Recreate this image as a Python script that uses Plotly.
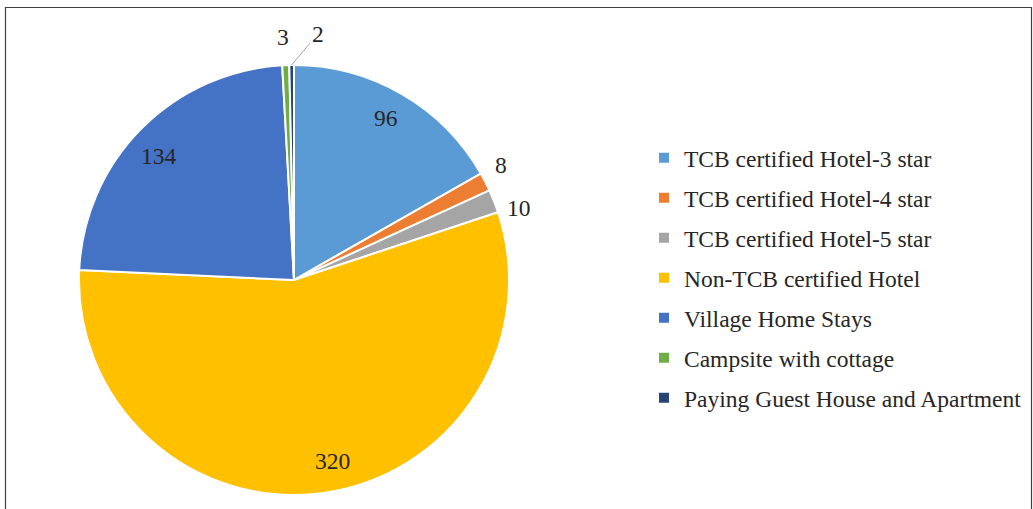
import math
import plotly.graph_objects as go

categories = [
    "TCB certified Hotel-3 star",
    "TCB certified Hotel-4 star",
    "TCB certified Hotel-5 star",
    "Non-TCB certified Hotel",
    "Village Home Stays",
    "Campsite with cottage",
    "Paying Guest House and Apartment",
]
values = [96, 8, 10, 320, 134, 3, 2]
colors = ["#5B9BD5", "#ED7D31", "#A5A5A5", "#FFC000", "#4472C4", "#70AD47", "#264478"]

# label placement style (radius factor of pie radius, pixel nudges, leader line)
label_radius = [0.85, 1.12, 1.14, 0.85, 0.85, 1.125, 1.0]
label_xshift = [0, -7, -3, 14, -5, -2, 0]
label_yshift = [4, 5, -18, 0, -5, 1, 0]
label_leader = [False, False, False, False, False, False, True]

W, H = 1033, 509
T, B = 65, 14
PH = H - T - B
DX0, DX1 = 79, 509
R = (DX1 - DX0) / 2
CX = (DX0 + DX1) / 2 / W
CY = 0.5
FONT = "Liberation Serif"
TXT = "#262626"
FS = 23.5

fig = go.Figure()
fig.add_trace(go.Pie(
    labels=categories,
    values=values,
    sort=False,
    direction="clockwise",
    rotation=0,
    marker=dict(colors=colors, line=dict(color="white", width=2)),
    textinfo="none",
    hoverinfo="label+value",
    domain=dict(x=[DX0 / W, DX1 / W], y=[0, 1]),
    showlegend=True,
    legendgroup="",
))
# invisible helper so that each legend slice gets its own group (gap between items)
fig.add_trace(go.Scatter(
    x=[None], y=[None], mode="markers", name=" ", legendgroup="helper",
    marker=dict(color="rgba(0,0,0,0)"), hoverinfo="skip", showlegend=True,
))

total = sum(values)
annotations = []
cum = 0
for v, f, xs, ys, lead in zip(values, label_radius, label_xshift, label_yshift, label_leader):
    mid = (cum + v / 2) / total * 2 * math.pi
    cum += v
    x = CX + f * R * math.sin(mid) / W
    y = CY + f * R * math.cos(mid) / PH
    if lead:
        annotations.append(dict(
            x=x, y=y, xref="paper", yref="paper", text=str(v),
            showarrow=True, arrowhead=0, arrowwidth=1, arrowcolor="#A6A6A6",
            ax=26, ay=-31, standoff=0,
            font=dict(family=FONT, size=FS, color=TXT),
        ))
    else:
        annotations.append(dict(
            x=x, y=y, xref="paper", yref="paper", text=str(v),
            showarrow=False, xanchor="center", yanchor="middle",
            xshift=xs, yshift=ys,
            font=dict(family=FONT, size=FS, color=TXT),
        ))

fig.update_layout(
    width=W, height=H,
    margin=dict(l=0, r=0, t=T, b=B, autoexpand=False),
    paper_bgcolor="white",
    plot_bgcolor="white",
    font=dict(family=FONT, size=FS, color=TXT),
    xaxis=dict(visible=False),
    yaxis=dict(visible=False),
    legend=dict(
        x=644 / W, y=(H - B - 136) / PH, xanchor="left", yanchor="top",
        traceorder="grouped", tracegroupgap=6.45,
        font=dict(family=FONT, size=FS, color=TXT),
        bgcolor="rgba(0,0,0,0)",
    ),
    annotations=annotations,
    shapes=[dict(
        type="rect", xref="paper", yref="paper",
        x0=5.5 / W, x1=1031.5 / W,
        y0=(H - B - 515) / PH, y1=(H - B - 7.5) / PH,
        line=dict(color="#404040", width=1.2), fillcolor="rgba(0,0,0,0)",
    )],
)

fig.write_html(
    "out.html",
    config={"displayModeBar": False},
    post_script="document.body.style.margin='0';document.body.style.padding='0';",
)
